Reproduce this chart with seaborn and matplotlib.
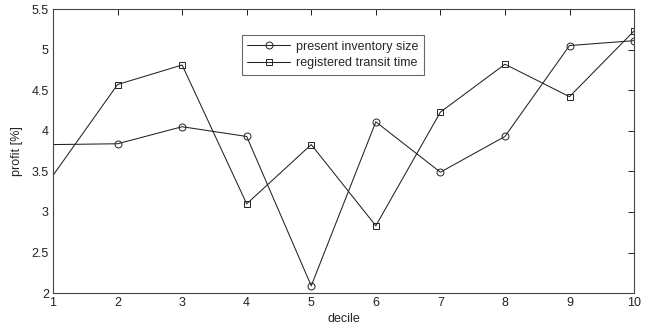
import matplotlib
matplotlib.use("Agg")
import matplotlib.pyplot as plt
import seaborn as sns
import pandas as pd

deciles = [1, 2, 3, 4, 5, 6, 7, 8, 9, 10]
inventory = [3.83, 3.84, 4.05, 3.93, 2.09, 4.11, 3.49, 3.93, 5.05, 5.11]
transit = [3.45, 4.57, 4.81, 3.10, 3.83, 2.83, 4.23, 4.82, 4.42, 5.23]
labels = ["present inventory size", "registered transit time"]
xticks = [1, 2, 3, 4, 5, 6, 7, 8, 9, 10]
yticks = [2, 2.5, 3, 3.5, 4, 4.5, 5, 5.5]

sns.set_style("white")
plt.rcParams['font.family'] = ['Liberation Sans', 'DejaVu Sans']

fig = plt.figure(figsize=(6.51, 3.29), dpi=100)
ax = fig.add_axes([0.0814, 0.109, 0.8926, 0.8636])

df1 = pd.DataFrame({"decile": deciles, "profit": inventory})
df2 = pd.DataFrame({"decile": deciles, "profit": transit})
sns.lineplot(data=df1, x="decile", y="profit", ax=ax, color="#222222", lw=0.75,
             marker="o", markersize=5, markerfacecolor="none", markeredgecolor="#222222",
             markeredgewidth=0.7, markevery=list(range(1, 10)), label=labels[0])
sns.lineplot(data=df2, x="decile", y="profit", ax=ax, color="#222222", lw=0.75,
             marker="s", markersize=4.2, markerfacecolor="none", markeredgecolor="#222222",
             markeredgewidth=0.7, markevery=list(range(1, 10)), label=labels[1])

ax.set_xlim(1, 10)
ax.set_ylim(2, 5.5)
ax.set_xticks(xticks)
ax.set_yticks(yticks)
ax.set_yticklabels([f"{v:g}" for v in yticks])
ax.tick_params(direction="in", top=True, right=True, length=4, width=0.7,
               labelsize=9, colors="#222222", pad=3)
for s in ax.spines.values():
    s.set_visible(True)
    s.set_color("#444444")
    s.set_linewidth(0.8)
ax.set_xlabel("decile", fontsize=9, labelpad=3)
ax.set_ylabel("profit [%]", fontsize=9, labelpad=6)

leg = ax.legend(loc="upper left", bbox_to_anchor=(0.325, 0.908), fontsize=9,
                frameon=True, fancybox=False, edgecolor="#444444", borderaxespad=0,
                handlelength=3.4, borderpad=0.45, labelspacing=0.35, handletextpad=0.5)
leg.get_frame().set_linewidth(0.8)

fig.savefig("out.png", dpi=100)
